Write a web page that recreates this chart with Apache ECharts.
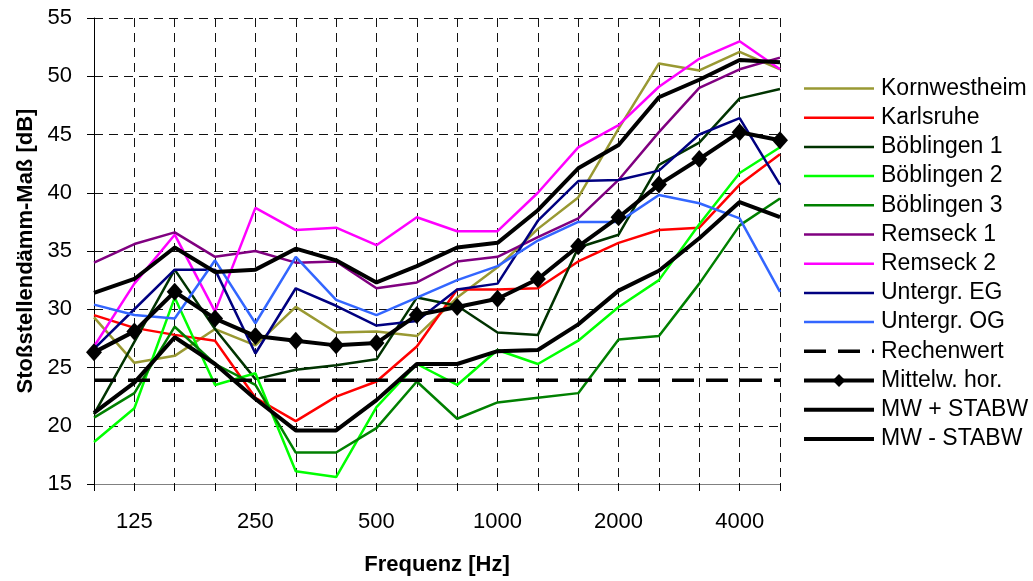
<!DOCTYPE html>
<html>
<head>
<meta charset="utf-8">
<script src="https://cdn.jsdelivr.net/npm/echarts@6/dist/echarts.min.js"></script>
<style>
  html, body { margin: 0; padding: 0; background: #fff; }
  #chart { width: 1033px; height: 581px; }
</style>
</head>
<body>
<div id="chart"></div>
<script>
// Third-octave band centre frequencies [Hz]
const frequencies = ['100', '125', '160', '200', '250', '315', '400', '500', '630',
                     '800', '1000', '1250', '1600', '2000', '2500', '3150', '4000', '5000'];
const labelledBands = ['125', '250', '500', '1000', '2000', '4000'];

// Flanking transmission level per building [dB]
const kornwestheim = [29.3, 25.4, 26.0, 28.3, 26.9, 30.2, 28.0, 28.1, 27.7, 31.0, 33.6, 36.9, 39.6, 45.5, 51.1, 50.5, 52.1, 50.6];
const karlsruhe    = [29.5, 28.4, 27.8, 27.3, 22.4, 20.4, 22.5, 23.8, 26.8, 31.7, 31.7, 31.8, 34.1, 35.7, 36.8, 37.0, 40.7, 43.3];
const boeblingen1  = [21.0, 27.2, 33.4, 28.3, 24.0, 24.8, 25.2, 25.7, 31.0, 30.3, 28.0, 27.8, 35.3, 36.4, 42.4, 44.3, 48.1, 48.9];
const boeblingen2  = [18.6, 21.5, 31.0, 23.5, 24.5, 16.1, 15.6, 21.6, 25.3, 23.5, 26.5, 25.3, 27.3, 30.2, 32.5, 37.3, 41.7, 43.9];
const boeblingen3  = [20.7, 22.8, 28.5, 25.3, 23.5, 17.7, 17.7, 19.8, 23.8, 20.6, 22.0, 22.4, 22.8, 27.4, 27.7, 32.2, 37.2, 39.5];
const remseck1     = [34.0, 35.6, 36.6, 34.5, 35.0, 34.0, 34.1, 31.8, 32.3, 34.1, 34.5, 36.2, 37.8, 41.1, 45.2, 49.0, 50.6, 51.6];
const remseck2     = [26.8, 32.2, 36.4, 29.8, 38.7, 36.8, 37.0, 35.5, 37.9, 36.7, 36.7, 40.0, 43.9, 45.8, 49.1, 51.5, 53.0, 50.6];
const untergrEG    = [26.6, 30.0, 33.4, 33.4, 26.2, 31.8, 30.3, 28.6, 29.0, 31.7, 32.2, 37.6, 41.0, 41.1, 41.9, 45.0, 46.4, 40.7];
const untergrOG    = [30.4, 29.5, 29.2, 34.2, 28.8, 34.5, 30.8, 29.5, 31.0, 32.5, 33.7, 35.9, 37.5, 37.5, 39.8, 39.1, 37.8, 31.5];

// Calculated value and statistics
const rechenwert   = [23.9, 23.9, 23.9, 23.9, 23.9, 23.9, 23.9, 23.9, 23.9, 23.9, 23.9, 23.9, 23.9, 23.9, 23.9, 23.9, 23.9, 23.9];
const mittelwert   = [26.3, 28.1, 31.5, 29.2, 27.7, 27.3, 26.9, 27.1, 29.5, 30.2, 30.9, 32.6, 35.4, 37.9, 40.7, 42.9, 45.2, 44.5];
const mwPlusStabw  = [31.4, 32.6, 35.3, 33.2, 33.4, 35.2, 34.2, 32.3, 33.7, 35.3, 35.7, 38.5, 42.1, 44.1, 48.2, 49.7, 51.4, 51.2];
const mwMinusStabw = [21.1, 23.7, 27.6, 25.3, 22.3, 19.6, 19.6, 22.2, 25.3, 25.3, 26.4, 26.5, 28.7, 31.6, 33.3, 36.1, 39.2, 37.9];

const yTicks = { min: 15, max: 55, step: 5 };

const FONT = '"Liberation Sans", Arial, Helvetica, sans-serif';

function plainLine(name, data, color, width) {
  return {
    name: name, type: 'line', data: data,
    symbol: 'none', showSymbol: false,
    lineStyle: { color: color, width: width },
    itemStyle: { color: color },
    emphasis: { disabled: true }
  };
}

const series = [
  plainLine('Kornwestheim', kornwestheim, '#999933', 2.5),
  plainLine('Karlsruhe', karlsruhe, '#FF0000', 2.5),
  plainLine('Böblingen 1', boeblingen1, '#003300', 2.5),
  plainLine('Böblingen 2', boeblingen2, '#00FF00', 2.5),
  plainLine('Böblingen 3', boeblingen3, '#008000', 2.5),
  plainLine('Remseck 1', remseck1, '#800080', 2.5),
  plainLine('Remseck 2', remseck2, '#FF00FF', 2.5),
  plainLine('Untergr. EG', untergrEG, '#000080', 2.5),
  plainLine('Untergr. OG', untergrOG, '#3366FF', 2.5),
  {
    name: 'Rechenwert', type: 'line', data: rechenwert,
    symbol: 'none', showSymbol: false,
    lineStyle: { color: '#000', width: 3.5, type: [22, 12] },
    itemStyle: { color: '#000' },
    emphasis: { disabled: true }
  },
  {
    name: 'Mittelw. hor.', type: 'line', data: mittelwert,
    symbol: 'diamond', symbolSize: [16, 18], showSymbol: true,
    lineStyle: { color: '#000', width: 4 },
    itemStyle: { color: '#000' },
    emphasis: { disabled: true }
  },
  plainLine('MW + STABW', mwPlusStabw, '#000', 4),
  plainLine('MW - STABW', mwMinusStabw, '#000', 4)
];

// Legend entries: plain lines show no marker, the mean keeps its diamond
const legendData = series.map(s => s.symbol === 'none'
  ? { name: s.name, itemStyle: { color: 'rgba(0,0,0,0)', borderColor: 'rgba(0,0,0,0)', borderWidth: 0 } }
  : { name: s.name });

const chart = echarts.init(document.getElementById('chart'), null, { renderer: 'canvas' });

chart.setOption({
  animation: false,
  backgroundColor: '#fff',
  textStyle: { fontFamily: FONT },
  grid: { left: 94, right: 253, top: 18, bottom: 93, containLabel: false },
  legend: {
    orient: 'vertical',
    left: 802, top: 77,
    padding: 0,
    itemWidth: 70, itemHeight: 16, itemGap: 6.2,
    selectedMode: false,
    lineStyle: { width: 'inherit' },
    textStyle: { fontFamily: FONT, fontSize: 23, lineHeight: 23, color: '#000', padding: [0, 0, 0, 2] },
    data: legendData
  },
  xAxis: {
    type: 'category',
    data: frequencies,
    boundaryGap: false,
    name: 'Frequenz [Hz]',
    nameLocation: 'middle',
    nameGap: 70,
    nameTextStyle: { fontFamily: FONT, fontSize: 22, fontWeight: 'bold', color: '#000' },
    axisLine: { lineStyle: { color: '#808080', width: 1 } },
    axisTick: { show: true, inside: false, length: 7, interval: 0, lineStyle: { color: '#000' } },
    axisLabel: {
      interval: 0, margin: 27,
      fontFamily: FONT, fontSize: 22, color: '#000',
      formatter: v => labelledBands.includes(v) ? v : ''
    },
    splitLine: { show: true, interval: 0, lineStyle: { color: '#111', width: 1, type: [9, 6] } }
  },
  yAxis: {
    type: 'value',
    min: yTicks.min, max: yTicks.max, interval: yTicks.step,
    name: 'Stoßstellendämm-Maß [dB]',
    nameLocation: 'middle',
    nameRotate: 90,
    nameGap: 57,
    nameTextStyle: { fontFamily: FONT, fontSize: 22, fontWeight: 'bold', color: '#000' },
    axisLine: { show: true, lineStyle: { color: '#000', width: 1 } },
    axisTick: { show: true, inside: false, length: 7, lineStyle: { color: '#000' } },
    axisLabel: { margin: 22, fontFamily: FONT, fontSize: 22, color: '#000' },
    splitLine: { show: true, lineStyle: { color: '#111', width: 1, type: [9, 6] } }
  },
  series: series
});
</script>
</body>
</html>
